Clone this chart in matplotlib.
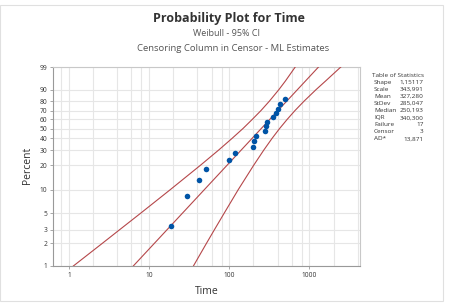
import numpy as np
import matplotlib
matplotlib.use("Agg")
import matplotlib.pyplot as plt
from matplotlib.patches import Rectangle

plt.rcParams['font.family'] = ['Open Sans', 'Noto Sans', 'DejaVu Sans']

# failure times and plotting positions (percent)
times = [18.7, 30.0, 41.3, 51.7, 100, 117, 200, 202, 216, 282, 290, 296,
         348, 381, 404, 434, 501]
percents = [3.4, 8.4, 13.3, 18.2, 23.0, 27.9, 32.8, 37.7, 42.6, 47.5, 52.5,
            57.4, 62.3, 67.2, 72.1, 77.0, 81.9]

# 95% confidence band
band_p = [1, 2, 3, 5, 10, 20, 30, 40, 50, 60, 70, 80, 90, 95, 99]
upper_t = [1.13, 2.60, 4.23, 7.86, 18.3, 43.5, 73.5, 108, 148, 193, 248,
           316, 416, 501, 664]
lower_t = [35.6, 51.8, 64.8, 86.4, 129, 201, 269, 341, 424, 526, 659, 856,
           1212, 1590, 2460]

shape = 1.15117
scale = 343.991

stat_names = ["Shape", "Scale", "Mean", "StDev", "Median", "IQR",
              "Failure", "Censor", "AD*"]
stat_values = ["1,15117", "343,991", "327,280", "285,047", "250,193",
               "340,300", "17", "3", "13,871"]

y_ticks = [1, 2, 3, 5, 10, 20, 30, 40, 50, 60, 70, 80, 90, 99]
x_ticks = [1, 10, 100, 1000]


def fwd(p):
    with np.errstate(all='ignore'):
        return np.log(-np.log(1 - np.asarray(p) / 100.0))


def inv(w):
    with np.errstate(all='ignore'):
        return 100.0 * (1 - np.exp(-np.exp(np.asarray(w))))


fig = plt.figure(figsize=(4.53, 3.04), dpi=100)
ax = fig.add_axes([53 / 453, 38 / 304, 307 / 453, 199 / 304])

ax.set_xscale('log')
ax.set_yscale('function', functions=(fwd, inv))
ax.set_xlim(0.63, 4270)
ax.set_ylim(1, 99)

# fitted line from the Weibull estimates
fit_p = np.array([1.0, 99.0])
fit_t = scale * (-np.log(1 - fit_p / 100)) ** (1 / shape)
line_col = '#b5474a'
ax.plot(fit_t, fit_p, color=line_col, lw=0.8, zorder=3)
ax.plot(upper_t, band_p, color=line_col, lw=0.8, zorder=3)
ax.plot(lower_t, band_p, color=line_col, lw=0.8, zorder=3)
ax.plot(times, percents, 'o', color='#0054a6', ms=4, mec='none', zorder=4)

ax.set_yticks(y_ticks)
ax.set_yticklabels([str(v) for v in y_ticks])
ax.yaxis.set_minor_locator(matplotlib.ticker.NullLocator())
ax.set_xticks(x_ticks)
ax.set_xticklabels([str(v) for v in x_ticks])
minor = [m * 10.0 ** k for k in range(-1, 4) for m in (2, 4, 6, 8)]
ax.set_xticks([m for m in minor if 0.63 < m < 4270], minor=True)
ax.xaxis.set_minor_formatter(matplotlib.ticker.NullFormatter())

ax.grid(True, which='both', color='#e6e6e6', lw=0.8)
ax.set_axisbelow(True)
ax.tick_params(which='major', labelsize=4.8, length=2, width=0.6,
               color='#999999', labelcolor='#333333', pad=2)
ax.tick_params(which='minor', length=0)
for s in ax.spines.values():
    s.set_color('#c8c8c8')
    s.set_linewidth(0.8)
ax.spines['left'].set_color('#999999')
ax.spines['bottom'].set_color('#999999')

ax.set_xlabel("Time", fontsize=7.5, color='#333333')
ax.set_ylabel("Percent", fontsize=7.5, color='#333333')
ax.xaxis.set_label_coords(0.502, -0.1)
ax.yaxis.set_label_coords(-0.065, 0.507)

fig.text(0.505, 0.939, "Probability Plot for Time", ha='center', va='center',
         fontsize=9, fontweight='bold', color='#333333')
fig.text(0.50, 0.891, "Weibull - 95% CI", ha='center', va='center',
         fontsize=6.5, color='#555555')
fig.text(0.514, 0.840, "Censoring Column in Censor - ML Estimates",
         ha='center', va='center', fontsize=6.8, color='#555555')

# table of statistics
fig.text(398 / 453, 1 - 75.7 / 304, "Table of Statistics", ha='center',
         va='center', fontsize=4.6, color='#333333')
for i, (n, v) in enumerate(zip(stat_names, stat_values)):
    yy = 1 - (82.5 + i * 7.05) / 304
    fig.text(374 / 453, yy, n, ha='left', va='center', fontsize=4.6,
             color='#333333')
    fig.text(423.5 / 453, yy, v, ha='right', va='center', fontsize=4.6,
             color='#333333')

fig.patches.append(Rectangle((0, 0.01), 443 / 453, 0.973,
                             transform=fig.transFigure, fill=False,
                             ec='#e0e0e0', lw=0.8))

fig.savefig("out.png", dpi=100)
